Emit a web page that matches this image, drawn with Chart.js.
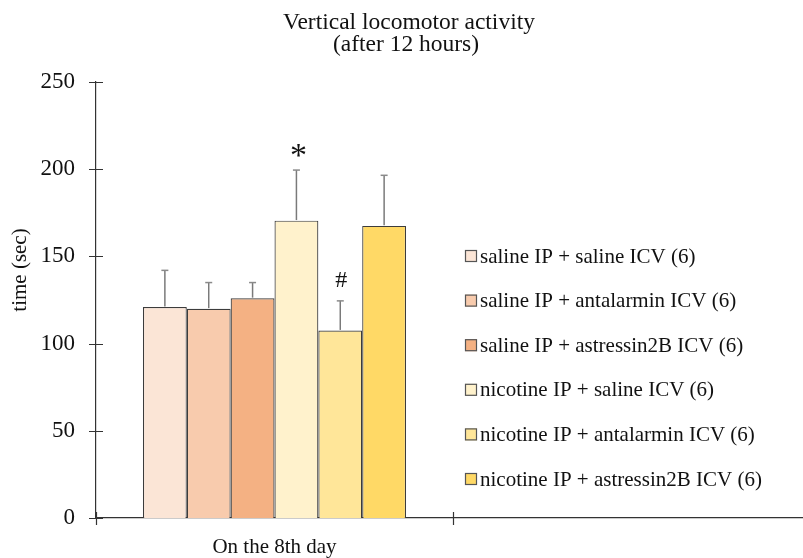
<!DOCTYPE html>
<html><head><meta charset="utf-8">
<script src="https://cdn.jsdelivr.net/npm/chart.js@4/dist/chart.umd.min.js"></script>
<style>
html,body{margin:0;padding:0;overflow:hidden;background:#fff;width:803px;height:558px}
#wrap{width:810px;height:558px;position:relative}
</style></head>
<body><div id="wrap"><canvas id="c" width="810" height="558"></canvas></div>
<script>
const categories = ['On the 8th day', ''];
const seriesNames = [
  'saline IP + saline ICV (6)',
  'saline IP + antalarmin ICV (6)',
  'saline IP + astressin2B ICV (6)',
  'nicotine IP + saline ICV (6)',
  'nicotine IP + antalarmin ICV (6)',
  'nicotine IP + astressin2B ICV (6)'
];
const means = [121, 120, 126, 170.5, 107.5, 167.5];
const errors = [21, 15, 9, 29, 17, 29];
const marks = ['', '', '', '*', '#', ''];
const colors = ['#FBE5D6', '#F8CBAD', '#F4B183', '#FFF2CC', '#FFE699', '#FFD966'];
const yTicks = [0, 50, 100, 150, 200, 250];
const titleLines = ['Vertical locomotor activity', '(after 12 hours)'];
const yTitle = 'time (sec)';

const FONT = "'Liberation Serif', 'Times New Roman', serif";

const datasets = seriesNames.map((n, i) => ({
  label: n,
  data: [means[i], null],
  err: [errors[i], null],
  mark: marks[i],
  backgroundColor: colors[i],
  borderColor: '#3c3c3c',
  borderWidth: 1.2,
  categoryPercentage: 0.737,
  barPercentage: 1.0
}));

const deco = {
  id: 'deco',
  afterDatasetsDraw(chart) {
    const ctx = chart.ctx, ys = chart.scales.y, a = chart.chartArea;
    ctx.save();
    chart.data.datasets.forEach((ds, i) => {
      const meta = chart.getDatasetMeta(i);
      meta.data.forEach((bar, j) => {
        const v = ds.data[j], e = ds.err[j];
        if (v == null) return;
        const top = ys.getPixelForValue(v), et = ys.getPixelForValue(v + e);
        ctx.strokeStyle = '#7a7a7a'; ctx.lineWidth = 1.5;
        ctx.beginPath();
        ctx.moveTo(bar.x, top - 0.6); ctx.lineTo(bar.x, et);
        ctx.stroke();
        ctx.strokeStyle = '#8a8a8a';
        ctx.beginPath();
        ctx.moveTo(bar.x - 3.5, et); ctx.lineTo(bar.x + 3.5, et);
        ctx.stroke();
        if (ds.mark) {
          const big = ds.mark === '*';
          ctx.fillStyle = '#111';
          ctx.font = (big ? 34 : 24) + 'px ' + FONT;
          ctx.textAlign = 'center';
          ctx.textBaseline = 'alphabetic';
          const m = ctx.measureText(ds.mark);
          const cy = et - (big ? 19.5 : 21.5);
          ctx.fillText(ds.mark, bar.x + (big ? 2 : 1), cy + (m.actualBoundingBoxAscent - m.actualBoundingBoxDescent) / 2);
        }
      });
    });
    ctx.strokeStyle = '#333'; ctx.lineWidth = 1.2;
    ctx.beginPath();
    ys.ticks.forEach(t => {
      const py = Math.round(ys.getPixelForValue(t.value)) + 0.5;
      ctx.moveTo(a.left - 7, py); ctx.lineTo(a.left + 7, py);
    });
    const cw = (a.right - a.left) / categories.length;
    for (let k = 0; k <= categories.length; k++) {
      const px = Math.round(a.left + k * cw) + 0.5;
      ctx.moveTo(px, a.bottom - 6); ctx.lineTo(px, a.bottom + 7);
    }
    ctx.stroke();
    ctx.restore();
  },
  afterDraw(chart) {
    const ctx = chart.ctx;
    ctx.save();
    ctx.fillStyle = '#111';
    ctx.font = '23.5px ' + FONT;
    ctx.textAlign = 'center';
    ctx.textBaseline = 'alphabetic';
    ctx.fillText(titleLines[0], 409, 28.5);
    ctx.fillText(titleLines[1], 406, 51);
    ctx.save();
    ctx.translate(20, 270);
    ctx.rotate(-Math.PI / 2);
    ctx.font = '21px ' + FONT;
    ctx.textBaseline = 'middle';
    ctx.fillText(yTitle, 0, 0);
    ctx.restore();
    ctx.font = '21px ' + FONT;
    ctx.textAlign = 'left';
    ctx.textBaseline = 'middle';
    chart.data.datasets.forEach((ds, i) => {
      const cy = 256 + i * 44.6;
      ctx.fillStyle = ds.backgroundColor;
      ctx.fillRect(465, cy - 6, 12, 12);
      ctx.strokeStyle = '#555';
      ctx.lineWidth = 1.2;
      ctx.strokeRect(465.5, cy - 5.5, 11, 11);
      ctx.fillStyle = '#111';
      ctx.fillText(ds.label, 480, cy + 1);
    });
    ctx.restore();
  }
};

new Chart(document.getElementById('c'), {
  type: 'bar',
  data: { labels: categories, datasets },
  options: {
    responsive: false,
    animation: false,
    layout: { padding: { top: 82, left: 0, right: 0, bottom: 0 } },
    plugins: { legend: { display: false }, title: { display: false }, tooltip: { enabled: false } },
    scales: {
      x: {
        offset: true,
        grid: { display: false, offset: true },
        border: { display: true, color: '#333', width: 1.2 },
        ticks: { color: '#111', font: { family: FONT, size: 21 }, padding: 9, maxRotation: 0, autoSkip: false },
        afterFit: s => { s.height = 40; }
      },
      y: {
        min: 0, max: 250,
        grid: { display: false },
        border: { display: true, color: '#333', width: 1.2 },
        ticks: { color: '#111', font: { family: FONT, size: 23 }, padding: 13 },
        afterBuildTicks: s => { s.ticks = yTicks.map(v => ({ value: v })); },
        afterFit: s => { s.width = 96; }
      }
    }
  },
  plugins: [deco]
});
</script>
</body></html>
